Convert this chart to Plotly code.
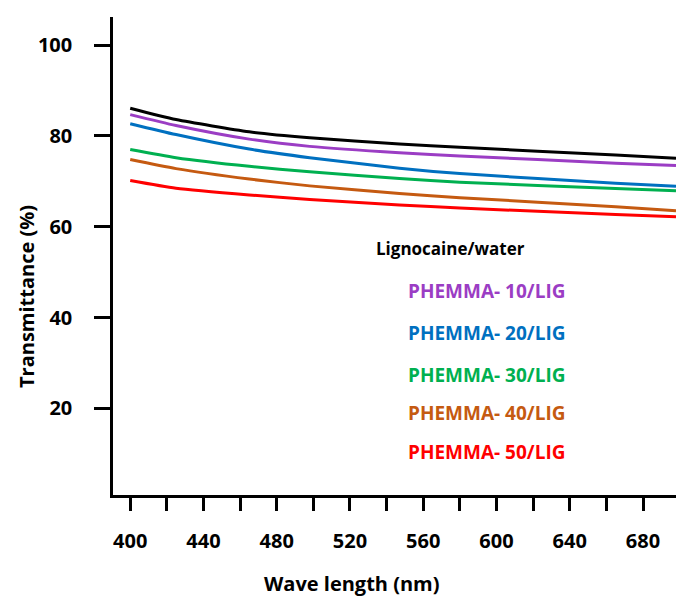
import plotly.graph_objects as go

# Wavelength sample points (nm)
wavelength = [400, 425, 465, 498, 547, 580, 665, 698]

# Transmittance (%)
lignocaine_water = [86.1, 83.6, 80.9, 79.6, 78.2, 77.5, 75.8, 75.1]
phemma_10 = [84.7, 82.3, 79.3, 77.7, 76.3, 75.6, 74.0, 73.5]
phemma_20 = [82.7, 80.3, 77.1, 75.2, 72.9, 71.7, 69.6, 68.9]
phemma_30 = [77.0, 75.2, 73.3, 72.1, 70.6, 69.8, 68.4, 67.9]
phemma_40 = [74.8, 72.8, 70.5, 69.0, 67.3, 66.4, 64.4, 63.5]
phemma_50 = [70.2, 68.5, 67.0, 66.0, 64.8, 64.1, 62.7, 62.2]

series_names = ["Lignocaine/water", "PHEMMA- 10/LIG", "PHEMMA- 20/LIG",
                "PHEMMA- 30/LIG", "PHEMMA- 40/LIG", "PHEMMA- 50/LIG"]
series_values = [lignocaine_water, phemma_10, phemma_20, phemma_30, phemma_40, phemma_50]
colors = ["#000000", "#9B3DC4", "#0070C0", "#00B050", "#C55A11", "#FF0000"]

x_tickvals = list(range(400, 700, 20))
x_ticktext = [str(v) if (v - 400) % 40 == 0 else "" for v in x_tickvals]
y_tickvals = [20, 40, 60, 80, 100]

# anchor positions (data coords) for the in-plot legend text
label_x = [574.7, 594.3, 594.3, 594.3, 594.3, 594.3]
label_y = [55.3, 45.9, 36.6, 27.3, 19.0, 10.4]
label_size = [17, 19, 19, 19, 19, 19]

FONT = "Open Sans"

fig = go.Figure()
for name, vals, col in zip(series_names, series_values, colors):
    fig.add_trace(go.Scatter(x=wavelength, y=vals, mode="lines", name=name,
                             line=dict(color=col, width=3, shape="spline", smoothing=0.6)))

for name, col, lx, ly, sz in zip(series_names, colors, label_x, label_y, label_size):
    fig.add_annotation(x=lx, y=ly, xref="x", yref="y", text="<b>" + name + "</b>",
                       showarrow=False, font=dict(family=FONT, size=sz, color=col),
                       xanchor="center", yanchor="middle")

fig.update_layout(
    width=676, height=596,
    margin=dict(l=113, r=0, t=17, b=101),
    paper_bgcolor="white", plot_bgcolor="white",
    showlegend=False,
    font=dict(family=FONT, color="black"),
)
fig.update_xaxes(
    range=[390.6, 698], showgrid=False, zeroline=False,
    showline=True, linecolor="black", linewidth=2.5,
    ticks="outside", ticklen=13, tickwidth=2.5, tickcolor="black",
    tickvals=x_tickvals, ticktext=x_ticktext,
    tickfont=dict(family=FONT, size=20, color="black", weight="bold"),
    ticklabelstandoff=13,
)
fig.update_yaxes(
    range=[0.9, 106.2], showgrid=False, zeroline=False,
    showline=True, linecolor="black", linewidth=2.5,
    ticks="outside", ticklen=16, tickwidth=2.5, tickcolor="black",
    tickvals=y_tickvals,
    tickfont=dict(family=FONT, size=20, color="black", weight="bold"),
    ticklabelstandoff=18,
)
# axis titles as annotations placed in paper coords
fig.add_annotation(x=(352 - 113) / 563, y=-(583 - 495) / 478, xref="paper", yref="paper",
                   text="<b>Wave length (nm)</b>", showarrow=False,
                   font=dict(family=FONT, size=20, color="black"),
                   xanchor="center", yanchor="middle")
fig.add_annotation(x=-(113 - 26) / 563, y=(495 - 297) / 478, xref="paper", yref="paper",
                   text="<b>Transmittance (%)</b>", showarrow=False, textangle=-90,
                   font=dict(family=FONT, size=20, color="black"),
                   xanchor="center", yanchor="middle")

fig.write_html("out.html")
